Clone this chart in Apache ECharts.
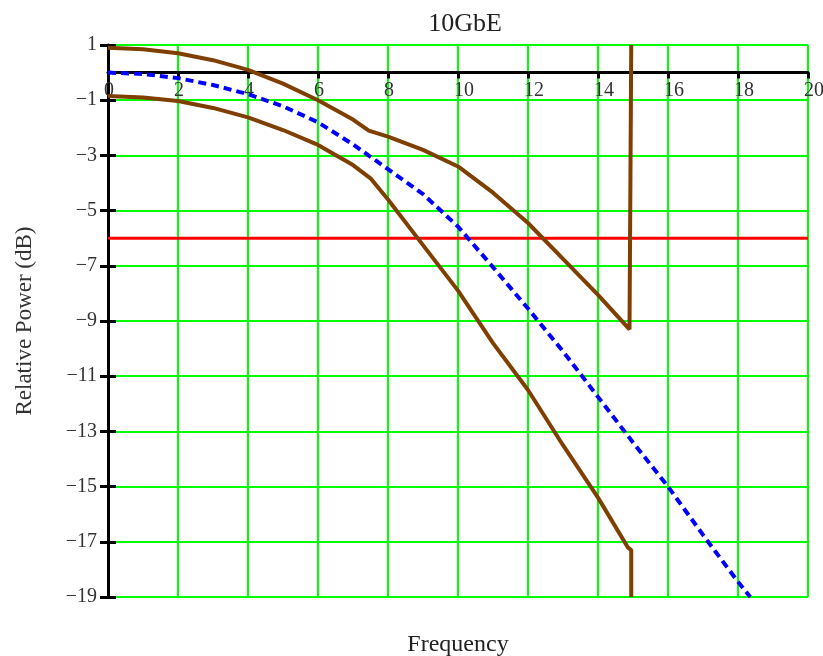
<!DOCTYPE html>
<html>
<head>
<meta charset="utf-8">
<script src="https://cdn.jsdelivr.net/npm/echarts@6/dist/echarts.min.js"></script>
<style>
html,body{margin:0;padding:0;background:#fff;}
#c{width:823px;height:656px;}
</style>
</head>
<body>
<div id="c"></div>
<script>
var titleText = '10GbE';
var xName = 'Frequency';
var yName = 'Relative Power (dB)';

var upperX = [0, 1, 2, 3, 4, 5, 6, 7, 7.45, 8, 9, 10, 11, 12, 13, 14, 14.9, 14.95, 14.95];
var upperY = [0.9, 0.85, 0.7, 0.45, 0.1, -0.4, -1.0, -1.7, -2.1, -2.32, -2.8, -3.4, -4.35, -5.45, -6.75, -8.05, -9.3, -9.3, 1];

var lowerX = [0, 1, 2, 3, 4, 5, 6, 7, 7.5, 8, 9, 10, 11, 12, 13, 14, 14.85, 14.95, 14.95];
var lowerY = [-0.85, -0.9, -1.03, -1.28, -1.62, -2.08, -2.62, -3.35, -3.83, -4.6, -6.25, -7.9, -9.8, -11.5, -13.5, -15.4, -17.2, -17.3, -19];

var nomX = [0, 1, 2, 3, 4, 5, 6, 7, 8, 9, 10, 11, 12, 13, 14, 15, 16, 17, 18, 18.35];
var nomY = [0, -0.05, -0.2, -0.45, -0.78, -1.22, -1.8, -2.6, -3.5, -4.4, -5.58, -7.05, -8.55, -10.1, -11.75, -13.4, -15.0, -16.75, -18.45, -19];

var limitLevel = -6;
var limitX = [0, 20];

function pairs(xs, ys) { return xs.map(function (x, i) { return [x, ys[i]]; }); }
function fmtY(v) { return v < 0 ? '\u2212' + Math.abs(v) : String(v); }

var FONT = '"Liberation Serif", "DejaVu Serif", serif';
var chart = echarts.init(document.getElementById('c'), null, { renderer: 'canvas' });

var xBase = { type: 'value', min: 0, max: 20, interval: 2 };
var yBase = { type: 'value', min: -19, max: 1, interval: 2 };

chart.setOption({
  animation: false,
  backgroundColor: '#fff',
  title: {
    text: titleText, left: 460, top: 6, textAlign: 'center',
    textStyle: { fontFamily: FONT, fontSize: 26, fontWeight: 'normal', color: '#222' }
  },
  grid: { left: 108, right: 15, top: 45, bottom: 59, containLabel: false, outerBoundsMode: 'none' },
  xAxis: [
    Object.assign({}, xBase, {
      axisLine: { onZero: true, lineStyle: { color: '#000', width: 3 } },
      axisTick: { show: true, inside: false, length: 6, lineStyle: { color: '#000', width: 3 } },
      axisLabel: { show: false },
      splitLine: { show: true, lineStyle: { color: '#00ff00', width: 2 } }
    }),
    Object.assign({}, xBase, {
      axisLine: { show: true, onZero: true, lineStyle: { color: '#000', width: 3, opacity: 0 } },
      axisTick: { show: true, inside: true, length: 6, lineStyle: { color: '#000', width: 3 } },
      axisLabel: { show: false },
      splitLine: { show: false }
    }),
    Object.assign({}, xBase, {
      position: 'bottom',
      axisLine: { show: false, onZero: false },
      axisTick: { show: false },
      axisLabel: { show: false },
      splitLine: { show: false },
      name: xName, nameLocation: 'middle', nameGap: 36,
      nameTextStyle: { fontFamily: FONT, fontSize: 24, color: '#222' }
    }),
    Object.assign({}, xBase, {
      position: 'bottom',
      offset: -525,
      axisLine: { show: false, onZero: false },
      axisTick: { show: false },
      axisLabel: { align: 'left', margin: 9, padding: [0, 0, 0, -4], fontFamily: FONT, fontSize: 20, color: '#333', showMinLabel: true, showMaxLabel: true, hideOverlap: false },
      splitLine: { show: false }
    })
  ],
  yAxis: [
    Object.assign({}, yBase, {
      position: 'left',
      axisLine: { show: true, onZero: false, lineStyle: { color: '#000', width: 3 } },
      axisTick: { show: true, inside: false, length: 8, lineStyle: { color: '#000', width: 3 } },
      axisLabel: { margin: 11, fontFamily: FONT, fontSize: 20, color: '#333', formatter: fmtY },
      splitLine: { show: true, lineStyle: { color: '#00ff00', width: 2 } },
      name: yName, nameLocation: 'middle', nameGap: 72,
      nameTextStyle: { fontFamily: FONT, fontSize: 23, color: '#333' }
    }),
    Object.assign({}, yBase, {
      position: 'left',
      offset: 0,
      axisLine: { show: false, onZero: false },
      axisTick: { show: true, inside: true, length: 8, lineStyle: { color: '#000', width: 3 } },
      axisLabel: { show: false },
      splitLine: { show: false }
    })
  ],
  series: [
    {
      type: 'line', name: 'limit', xAxisIndex: 0, yAxisIndex: 0,
      data: limitX.map(function (x) { return [x, limitLevel]; }),
      showSymbol: false, lineStyle: { color: '#ff0000', width: 3 }, z: 3
    },
    {
      type: 'line', name: 'upper', xAxisIndex: 0, yAxisIndex: 0,
      data: pairs(upperX, upperY), showSymbol: false, clip: true,
      lineStyle: { color: '#7f3f00', width: 4 }, z: 4
    },
    {
      type: 'line', name: 'lower', xAxisIndex: 0, yAxisIndex: 0,
      data: pairs(lowerX, lowerY), showSymbol: false, clip: true,
      lineStyle: { color: '#7f3f00', width: 4 }, z: 4
    },
    {
      type: 'line', name: 'nominal', xAxisIndex: 0, yAxisIndex: 0,
      data: pairs(nomX, nomY), showSymbol: false, clip: true,
      lineStyle: { color: '#0000ff', width: 4, type: [8, 5] }, z: 5
    }
  ]
});
</script>
</body>
</html>
